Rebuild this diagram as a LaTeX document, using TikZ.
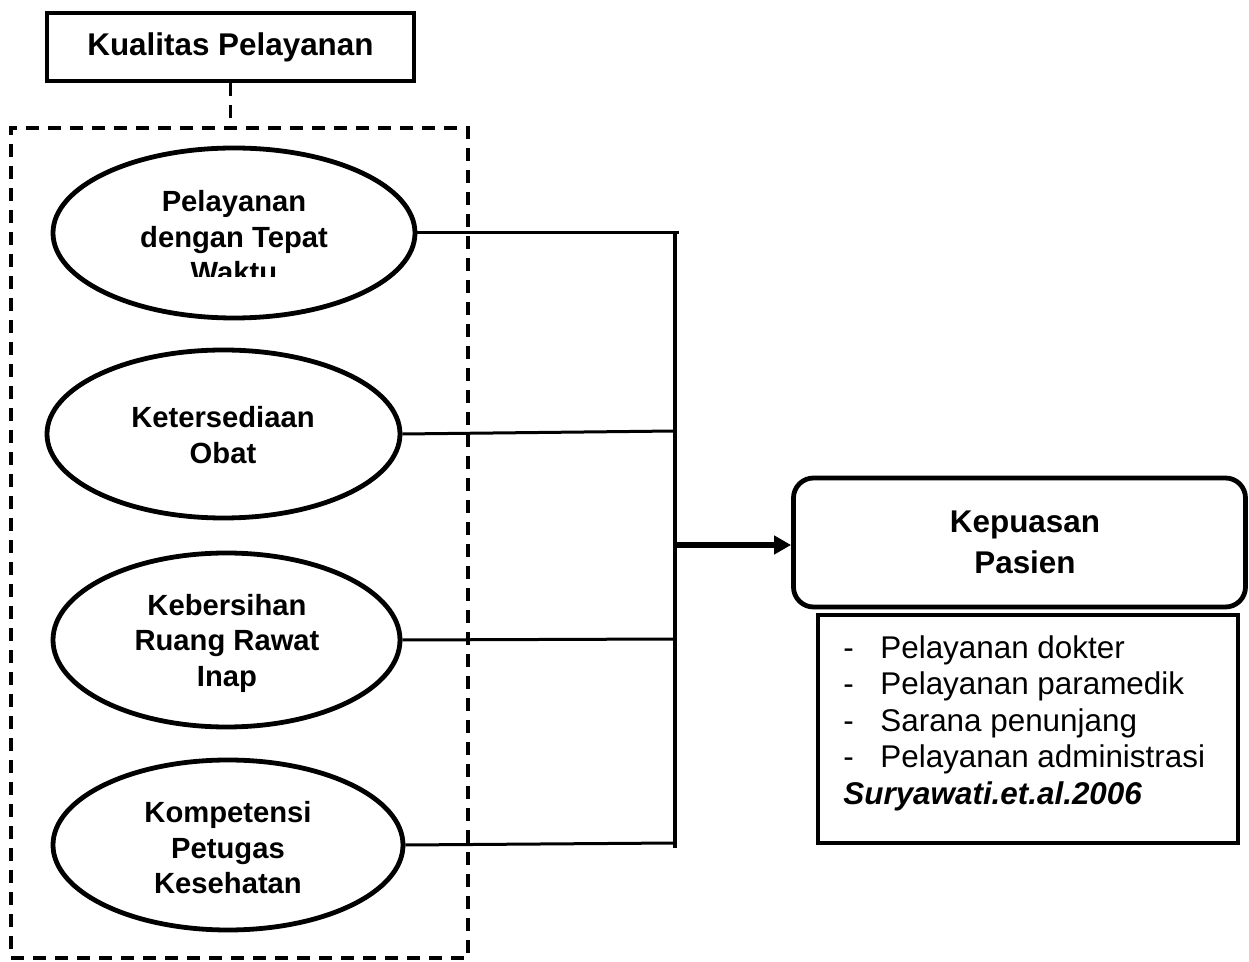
\documentclass[tikz,border=0pt]{standalone}
\usepackage{fontspec}
\setmainfont{Liberation Sans}
\usetikzlibrary{arrows.meta,shapes.geometric}
\begin{document}
\begin{tikzpicture}[x=0.5pt,y=-0.5pt,
  ell/.style={draw,ellipse,line width=2.4pt,inner sep=0pt},
  etxt/.style={align=center,font=\bfseries\fontsize{14.6}{17.75}\selectfont,inner sep=0pt},
  conn/.style={line width=1.5pt},
  dsh/.style={line width=1.8pt,dash pattern=on 6.5pt off 4.5pt},
]
\useasboundingbox (0,0) rectangle (1249,962);

% title box
\node[draw,line width=2pt,minimum width=183.5pt,minimum height=34pt,inner sep=0pt,
      font=\bfseries\fontsize{15.7}{19}\selectfont] (kp) at (230.5,47) {Kualitas Pelayanan};

% dashed group
\node[draw,dsh,minimum width=228.5pt,minimum height=415pt,inner sep=0pt] (grp) at (239.5,543) {};
\draw[dsh] (kp.south) -- (kp.south |- grp.north);

% ellipses
\node[ell,minimum width=181pt,minimum height=85pt] (e1) at (234,233) {};
\begin{scope}
\clip (40,140) rectangle (430,277);
\node[etxt] (t1) at (234,237) {Pelayanan\\dengan Tepat\\Waktu};
\end{scope}
\node[ell,minimum width=176.5pt,minimum height=84pt] (e2) at (223.5,434) {};
\node[etxt] (t2) at (223,435) {Ketersediaan\\Obat};
\node[ell,minimum width=173.5pt,minimum height=87pt] (e3) at (226.5,640) {};
\node[etxt] (t3) at (227,643) {Kebersihan\\Ruang Rawat\\Inap};
\node[ell,minimum width=175pt,minimum height=85pt] (e4) at (228,845) {};
\node[etxt] (t4) at (228,848) {Kompetensi\\Petugas\\Kesehatan};

% bus
\coordinate (bt) at (675,233);
\coordinate (bs) at (679,233);
\coordinate (bb) at (675,848);
\coordinate (j2) at (675,431);
\coordinate (j3) at (675,639);
\coordinate (j4) at (675,843);
\coordinate (ja) at (675,545);
\draw[line width=1.8pt] (bt) -- (bb);
\draw[conn] (e1.east) -- (bs);
\draw[conn] (e2.east) -- (j2);
\draw[conn] (e3.east) -- (j3);
\draw[conn] (e4.east) -- (j4);

% result
\node[draw,rounded corners=10pt,line width=2.4pt,minimum width=226pt,minimum height=64.5pt,
      inner sep=0pt,align=center,font=\bfseries\fontsize{15.7}{20.5}\selectfont]
      (kep) at (1019.5,542.5) {\hspace*{5.5pt}Kepuasan\\\hspace*{5.5pt}Pasien};
\draw[line width=2.8pt,-{Triangle[length=8.5pt,width=9pt]}] (ja) -- (kep.west |- ja);

\node[draw,line width=2pt,minimum width=210pt,minimum height=114pt,inner sep=0pt] (lst) at (1028,729) {};
\node[anchor=north west,align=left,inner sep=0pt,font=\fontsize{15.7}{18.3}\selectfont] (lt) at (843,635)
  {\makebox[18.5pt][l]{-}Pelayanan dokter\\
   \makebox[18.5pt][l]{-}Pelayanan paramedik\\
   \makebox[18.5pt][l]{-}Sarana penunjang\\
   \makebox[18.5pt][l]{-}Pelayanan administrasi\\
   \textbf{\textit{Suryawati.et.al.2006}}};
\end{tikzpicture}
\end{document}
